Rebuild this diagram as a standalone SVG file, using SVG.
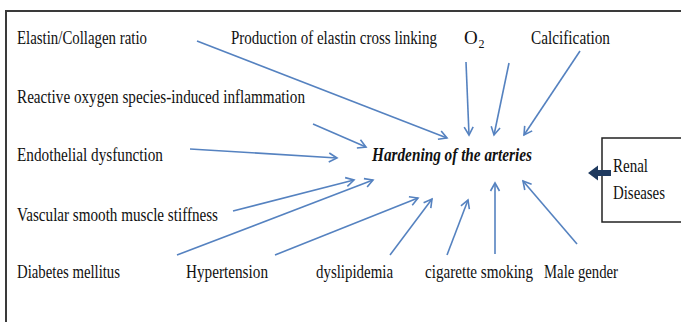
<svg xmlns="http://www.w3.org/2000/svg" width="681" height="322" viewBox="0 0 681 322">
<style>
.t{font-family:"Liberation Serif","Times New Roman",serif;font-size:19px;fill:#111}
.s{font-family:"Liberation Serif","Times New Roman",serif;font-size:12px;fill:#111}
.h{font-family:"Liberation Serif","Times New Roman",serif;font-size:19px;font-weight:bold;font-style:italic;fill:#111}
.c{stroke:#5582c0;stroke-width:1.6;fill:none;marker-end:url(#ah)}
</style>
<defs>
<marker id="ah" markerUnits="userSpaceOnUse" markerWidth="12" markerHeight="12" refX="10" refY="6" orient="auto">
<path d="M2,1.5 L10,6 L2,10.5" fill="none" stroke="#5582c0" stroke-width="1.6"/>
</marker>
</defs>
<rect width="681" height="322" fill="#fff"/>
<rect x="6" y="11" width="700" height="340" fill="none" stroke="#3a3a3a" stroke-width="2"/>
<g id="n-elastin"><text class="t" x="17" y="44" textLength="130" lengthAdjust="spacingAndGlyphs">Elastin/Collagen ratio</text></g>
<g id="n-production"><text class="t" transform="translate(231 44) scale(0.8 1)" x="0" y="0" textLength="257.5" lengthAdjust="spacingAndGlyphs">Production of elastin cross linking</text></g>
<g id="n-o2"><text class="t" x="464" y="44">O</text><text class="s" x="478.5" y="48">2</text></g>
<g id="n-calc"><text class="t" x="531" y="44" textLength="79" lengthAdjust="spacingAndGlyphs">Calcification</text></g>
<g id="n-ros"><text class="t" x="17" y="103" textLength="288" lengthAdjust="spacingAndGlyphs">Reactive oxygen species-induced inflammation</text></g>
<g id="n-endo"><text class="t" x="17" y="161" textLength="146" lengthAdjust="spacingAndGlyphs">Endothelial dysfunction</text></g>
<g id="n-vsm"><text class="t" x="17" y="221" textLength="201" lengthAdjust="spacingAndGlyphs">Vascular smooth muscle stiffness</text></g>
<g id="n-diab"><text class="t" x="17" y="278" textLength="103" lengthAdjust="spacingAndGlyphs">Diabetes mellitus</text></g>
<g id="n-hyper"><text class="t" x="186" y="278" textLength="82" lengthAdjust="spacingAndGlyphs">Hypertension</text></g>
<g id="n-dys"><text class="t" x="316" y="278" textLength="77" lengthAdjust="spacingAndGlyphs">dyslipidemia</text></g>
<g id="n-cig"><text class="t" transform="translate(425 278) scale(0.8 1)" x="0" y="0" textLength="135" lengthAdjust="spacingAndGlyphs">cigarette smoking</text></g>
<g id="n-male"><text class="t" x="544" y="278" textLength="74" lengthAdjust="spacingAndGlyphs">Male gender</text></g>
<g id="n-hard"><text class="h" x="372" y="161" textLength="160" lengthAdjust="spacingAndGlyphs">Hardening of the arteries</text></g>
<g id="n-renal">
<rect x="602" y="138" width="100" height="84" fill="none" stroke="#222" stroke-width="1.5"/>
<text class="t" x="613" y="172" textLength="35" lengthAdjust="spacingAndGlyphs">Renal</text>
<text class="t" x="613" y="199" textLength="52" lengthAdjust="spacingAndGlyphs">Diseases</text>
</g>
<g id="connectors">
<line class="c" x1="197" y1="41" x2="447" y2="138"/>
<line class="c" x1="466" y1="62" x2="469" y2="135"/>
<line class="c" x1="509" y1="63" x2="494" y2="135"/>
<line class="c" x1="580" y1="51" x2="524" y2="135"/>
<line class="c" x1="313" y1="124" x2="366" y2="147"/>
<line class="c" x1="190" y1="149" x2="337" y2="158"/>
<line class="c" x1="233" y1="211" x2="354" y2="180"/>
<line class="c" x1="177" y1="255" x2="373" y2="180"/>
<line class="c" x1="275" y1="255" x2="418" y2="198"/>
<line class="c" x1="390" y1="255" x2="432" y2="199"/>
<line class="c" x1="447" y1="255" x2="468" y2="200"/>
<line class="c" x1="495" y1="254" x2="495" y2="183"/>
<line class="c" x1="577" y1="244" x2="523" y2="181"/>
<polygon points="611,170 598,170 598,165.5 588,173 598,180.5 598,176 611,176" fill="#1f3a5f"/>
</g>
</svg>
